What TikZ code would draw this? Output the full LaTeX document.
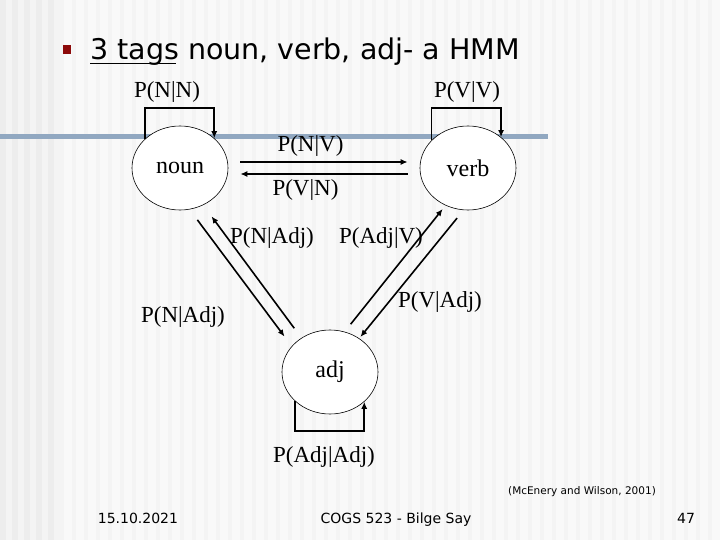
\documentclass[tikz,border=0pt]{standalone}
\usepackage{fontspec}
\setmainfont{Liberation Serif}
\newfontfamily\slidefont{DejaVu Sans}
\usetikzlibrary{shapes.geometric,arrows.meta}

\definecolor{barblue}{RGB}{145,168,193}
\definecolor{bulletred}{RGB}{140,10,10}

\begin{document}
\begin{tikzpicture}[x=1pt,y=-1pt,
    state/.style={ellipse,draw,line width=0.6pt,fill=white,minimum width=96pt,minimum height=84pt,inner sep=0pt,font=\fontsize{24}{28}\selectfont},
    arr/.style={line width=1.6pt,-{Latex[length=7pt,width=6pt]}},
    lbl/.style={inner sep=0pt,font=\fontsize{23}{27}\selectfont},
    foot/.style={inner sep=0pt,anchor=base,font=\slidefont\fontsize{14}{16}\selectfont}]
    % Background stripes
    \fill[gray!5] (0,0) rectangle (720,540);
    \foreach \x in {0,12,...,48} \fill[gray!14] (\x,0) rectangle ++(6,540);
    \foreach \x in {6,18,...,54} \fill[gray!9] (\x,0) rectangle ++(6,540);
    \foreach \x in {60,72,...,714} \fill[gray!9] (\x,0) rectangle ++(4,540);

    % Title
    \fill[bulletred] (62.5,45.5) rectangle (71,54.5);
    \node[anchor=base west,inner sep=0pt,font=\slidefont\fontsize{28.5}{32}\selectfont] (title) at (90,60) {3 tags noun, verb, adj- a HMM};
    \draw[line width=1.3pt] (title.base west) ++(0,3.5) -- ++(86,0);
    \fill[barblue] (0,134.5) rectangle (548,139.5);

    % States
    \node[state] (noun) at (180,168) {noun};
    \node[state] (verb) at (468,168) {verb};
    \node[state] (adj) at (330,372) {adj};

    % Self loops
    \draw[arr] (noun.140) -- ++(0,-31) -| (noun.41);
    \draw[arr] (verb.143) -- ++(0,-32.5) -| (verb.43);
    \draw[arr] (adj.220) -- ++(0,30) -| (adj.319);

    % Transitions
    \draw[arr,shorten <=12pt,shorten >=12pt] ([yshift=6pt]noun.east) -- ([yshift=6pt]verb.west);
    \draw[arr,shorten <=12pt,shorten >=12pt] ([yshift=-6pt]verb.west) -- ([yshift=-6pt]noun.east);
    \draw[arr,shorten <=13pt,shorten >=12pt] (noun.-77.5) -- (adj.146.3);
    \draw[arr,shorten <=12pt,shorten >=14pt] (adj.130) -- (noun.-58.5);
    \draw[arr,shorten <=9.6pt,shorten >=4.6pt] (adj.70.2) -- (verb.-121.4);
    \draw[arr,shorten <=10.3pt,shorten >=1.8pt] (verb.-96.6) -- (adj.49.4);

    % Labels
    \node[lbl] (pnn) at (167,92) {P(N|N)};
    \node[lbl] (pvv) at (467,92) {P(V|V)};
    \node[lbl] (pnv) at (310.5,146) {P(N|V)};
    \node[lbl] (pvn) at (305.5,190) {P(V|N)};
    \node[lbl] (pnadj) at (272,238) {P(N|Adj)};
    \node[lbl] (padjv) at (381,238) {P(Adj|V)};
    \node[lbl] (pvadj) at (440,302) {P(V|Adj)};
    \node[lbl] (pnadjb) at (183,317) {P(N|Adj)};
    \node[lbl] (padjadj) at (324,457) {P(Adj|Adj)};

    % Footer
    \node[inner sep=0pt,anchor=base,font=\slidefont\fontsize{10.5}{12}\selectfont] (cite) at (582,494) {(McEnery and Wilson, 2001)};
    \node[foot] (date) at (138,523) {15.10.2021};
    \node[foot] (course) at (396,523) {COGS 523 - Bilge Say};
    \node[foot] (page) at (686,523) {47};
\end{tikzpicture}
\end{document}
